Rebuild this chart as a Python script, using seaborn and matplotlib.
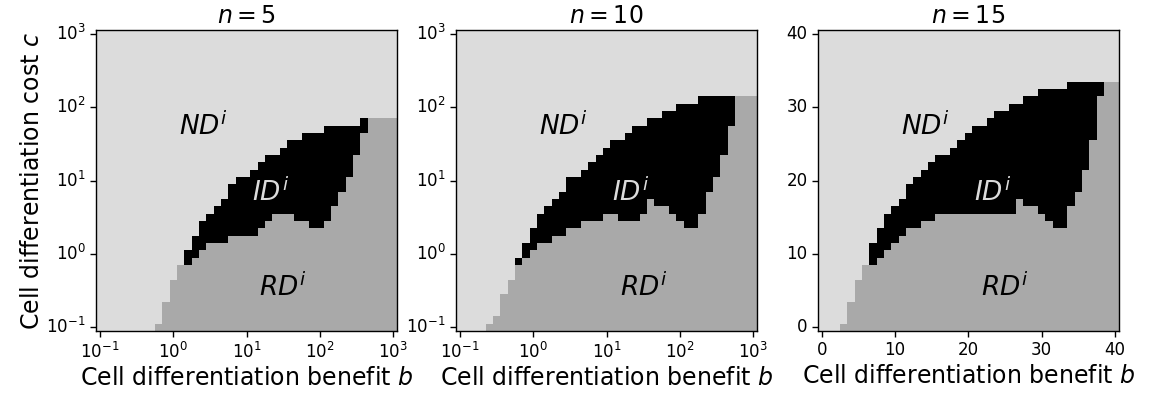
import numpy as np
import matplotlib
matplotlib.use('Agg')
import matplotlib.pyplot as plt
from matplotlib.colors import ListedColormap
import seaborn as sns

# ===============================
# DATA: per column of b (41 grid points), height of each region in cells
# rd_*  = number of cells (from bottom) in RD^i
# top_* = top of ID^i region (rd..top is ID^i, above is ND^i)
# ===============================
titles = ['$n = 5$', '$n = 10$', '$n = 15$']

rd_n5 = [0, 0, 0, 0, 0, 0, 0, 0, 1, 4, 7, 9, 9, 10, 11, 12, 12, 12, 13, 13, 13,
         13, 14, 15, 16, 16, 16, 15, 15, 14, 14, 15, 17, 19, 21, 24, 27, 29, 29, 29, 29]
top_n5 = [0, 0, 0, 0, 0, 0, 0, 0, 1, 4, 7, 9, 11, 13, 15, 16, 17, 18, 20, 21, 21,
          22, 23, 24, 24, 25, 26, 26, 27, 27, 27, 28, 28, 28, 28, 28, 29, 29, 29, 29, 29]

rd_n10 = [0, 0, 0, 0, 1, 2, 5, 7, 9, 10, 11, 12, 12, 13, 13, 14, 14, 15, 15, 15, 16,
          16, 15, 15, 15, 16, 18, 17, 17, 16, 15, 14, 14, 16, 19, 21, 24, 28, 32, 32, 32]
top_n10 = [0, 0, 0, 0, 1, 2, 5, 7, 10, 12, 14, 16, 17, 18, 19, 21, 21, 22, 23, 24, 25,
           26, 26, 27, 28, 28, 29, 29, 30, 30, 31, 31, 31, 32, 32, 32, 32, 32, 32, 32, 32]

rd_n15 = [0, 0, 0, 1, 4, 7, 9, 9, 10, 11, 12, 13, 14, 14, 15, 15, 16, 16, 16, 16, 16,
          16, 16, 16, 16, 16, 16, 18, 17, 17, 16, 15, 14, 14, 17, 19, 22, 26, 32, 34, 34]
top_n15 = [0, 0, 0, 1, 4, 7, 9, 12, 14, 16, 17, 18, 20, 21, 22, 23, 24, 24, 25, 26, 27,
           28, 28, 29, 30, 30, 31, 31, 32, 32, 33, 33, 33, 33, 34, 34, 34, 34, 34, 34, 34]

log_ticklabels = ['$\\mathdefault{10^{-1}}$', '$\\mathdefault{10^{0}}$',
                  '$\\mathdefault{10^{1}}$', '$\\mathdefault{10^{2}}$',
                  '$\\mathdefault{10^{3}}$']
lin_ticklabels = ['0', '10', '20', '30', '40']

n_grid = 41
region_colors = ['#dcdcdc', '#000000', '#a9a9a9']   # ND, ID, RD


def build_grid(rd, top):
    grid = np.zeros((n_grid, n_grid))
    for i in range(n_grid):
        grid[:top[i], i] = 1
        grid[:rd[i], i] = 2
    return grid


panels = [
    (build_grid(rd_n5, top_n5), log_ticklabels),
    (build_grid(rd_n10, top_n10), log_ticklabels),
    (build_grid(rd_n15, top_n15), lin_ticklabels),
]

sns.set_theme(style='ticks')
plt.rcParams['font.family'] = ['DejaVu Sans']
for key in ['text.color', 'axes.labelcolor', 'xtick.color', 'ytick.color', 'axes.edgecolor']:
    plt.rcParams[key] = 'black'

fig = plt.figure(figsize=(11.63, 4.0), dpi=100)
lefts = [0.0828, 0.3924, 0.7034]
cmap = ListedColormap(region_colors)

for k, ((grid, ticklabels), title) in enumerate(zip(panels, titles)):
    ax = fig.add_axes([lefts[k], 0.1725, 0.2585, 0.7517])
    sns.heatmap(grid, cmap=cmap, vmin=-0.5, vmax=2.5, cbar=False, ax=ax)
    ax.set_ylim(0, n_grid)
    ax.set_xlim(0, n_grid)
    for s in ax.spines.values():
        s.set_visible(True)
        s.set_color('black')
        s.set_linewidth(1.0)
    ticks = [0.5, 10.5, 20.5, 30.5, 40.5]
    ax.set_xticks(ticks)
    ax.set_xticklabels(ticklabels, rotation=0, fontsize=12)
    ax.set_yticks(ticks)
    ax.set_yticklabels(ticklabels, rotation=0, fontsize=12)
    ax.tick_params(direction='out', length=4, width=1, color='black', labelcolor='black')

    ax.set_title(title, fontsize=17, pad=5, color='black')
    ax.set_xlabel('Cell differentiation benefit $b$', fontsize=17, labelpad=3)
    if k == 0:
        ax.set_ylabel('Cell differentiation cost $c$', fontsize=17, labelpad=2)

    ax.text(14.6, 27.8, '$ND^i$', fontsize=19, ha='center', va='center', color='black')
    ax.text(23.8, 18.8, '$ID^i$', fontsize=19, ha='center', va='center', color='#dcdcdc')
    ax.text(25.5, 5.9, '$RD^i$', fontsize=19, ha='center', va='center', color='black')

plt.savefig('out.png', dpi=100)
plt.close()
